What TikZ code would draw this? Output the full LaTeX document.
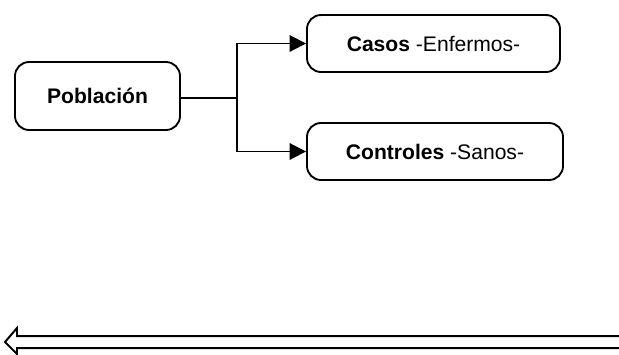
\documentclass[tikz,border=0pt]{standalone}
\usepackage{fontspec}
\setmainfont{Liberation Sans}
\usetikzlibrary{arrows.meta}
\begin{document}
\begin{tikzpicture}[
        x=0.03cm, y=-0.03cm,
        box_style/.style={draw=black, fill=white, line width=1.6pt, rounded corners=12pt, inner sep=0pt, font=\fontsize{18}{20}\selectfont},
        edge_style/.style={black, line width=1.6pt},
        arrow_style/.style={edge_style, -{Triangle[length=14pt, width=14pt]}},
        big_arrow/.style={black, line width=1.7pt, line join=miter}
    ]
        \useasboundingbox (0,0) rectangle (619,354);

        % Boxes
        \node[box_style, minimum width=4.95cm, minimum height=2.04cm] (pob) at (97.5,96) {\textbf{Población}};
        \node[box_style, minimum width=7.59cm, minimum height=1.71cm] (casos) at (433.5,43.5) {\textbf{Casos} -Enfermos-};
        \node[box_style, minimum width=7.68cm, minimum height=1.71cm] (ctrl) at (435,151.5) {\textbf{Controles} -Sanos-};

        % Split point
        \coordinate (split) at (237,98);

        % Connectors
        \draw[edge_style] (pob.east |- split) -- (split);
        \draw[arrow_style] (split) |- (casos.west);
        \draw[arrow_style] (split) |- (ctrl.west);

        % Hollow arrow at the bottom
        \draw[big_arrow] (620,336) -- (17,336) -- (17,328) -- (5,342) -- (17,354) -- (17,348) -- (620,348);
    \end{tikzpicture}
\end{document}
